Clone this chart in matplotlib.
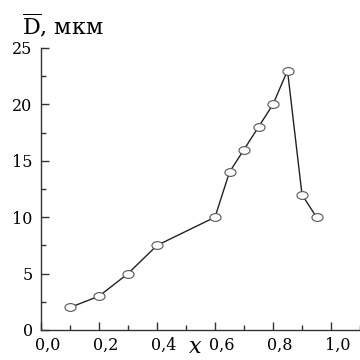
import numpy as np
import matplotlib
matplotlib.use("Agg")
import matplotlib.pyplot as plt
import matplotlib.transforms as mtransforms
from matplotlib.path import Path
from matplotlib.ticker import MultipleLocator, FuncFormatter

# Mean grain size vs. composition x
x_vals = [0.1, 0.2, 0.3, 0.4, 0.6, 0.65, 0.7, 0.75, 0.8, 0.85, 0.9, 0.95]
d_vals = [2, 3, 5, 7.5, 10, 14, 16, 18, 20, 23, 12, 10]

plt.rcParams["font.family"] = ["DejaVu Serif"]
plt.rcParams["mathtext.fontset"] = "dejavuserif"

fig = plt.figure(figsize=(3.6, 3.6), dpi=100)
ax = fig.add_axes([41 / 360, 30 / 360, 319 / 360, 282 / 360])

# slightly flattened open circle
circ = Path.unit_circle()
oval = Path(circ.vertices * np.array([1.0, 0.7]), circ.codes)

ax.plot(x_vals, d_vals, color="#222222", lw=1.0,
        marker=oval, markersize=8, markerfacecolor="white",
        markeredgecolor="#555555", markeredgewidth=0.8)

ax.set_xlim(0, 1.1)
ax.set_ylim(0, 25)

ax.xaxis.set_major_locator(MultipleLocator(0.2))
ax.xaxis.set_minor_locator(MultipleLocator(0.1))
ax.yaxis.set_major_locator(MultipleLocator(5))
ax.yaxis.set_minor_locator(MultipleLocator(2.5))
ax.xaxis.set_major_formatter(FuncFormatter(lambda v, p: f"{v:.1f}".replace(".", ",")))

ax.tick_params(which="major", direction="in", length=6, width=1.0,
               labelsize=11.5, color="#333333")
ax.tick_params(which="minor", direction="in", length=3.5, width=1.0,
               color="#333333")
ax.tick_params(axis="x", pad=5)
ax.tick_params(axis="y", pad=6)

# x labels sit a little right of their ticks
shift = mtransforms.ScaledTranslation(7 / 100, 0, fig.dpi_scale_trans)
for lbl in ax.get_xticklabels():
    lbl.set_transform(lbl.get_transform() + shift)

for s in ["top", "right"]:
    ax.spines[s].set_visible(False)
for s in ["left", "bottom"]:
    ax.spines[s].set_linewidth(1.0)
    ax.spines[s].set_color("#333333")

fig.text(22 / 360, 1 - 34 / 360, r"$\overline{\mathrm{D}}$, мкм",
         fontsize=16, ha="left", va="baseline")
fig.text(195 / 360, 2 / 360, r"$x$", fontsize=16,
         ha="center", va="bottom")

fig.savefig("out.png", dpi=100)
